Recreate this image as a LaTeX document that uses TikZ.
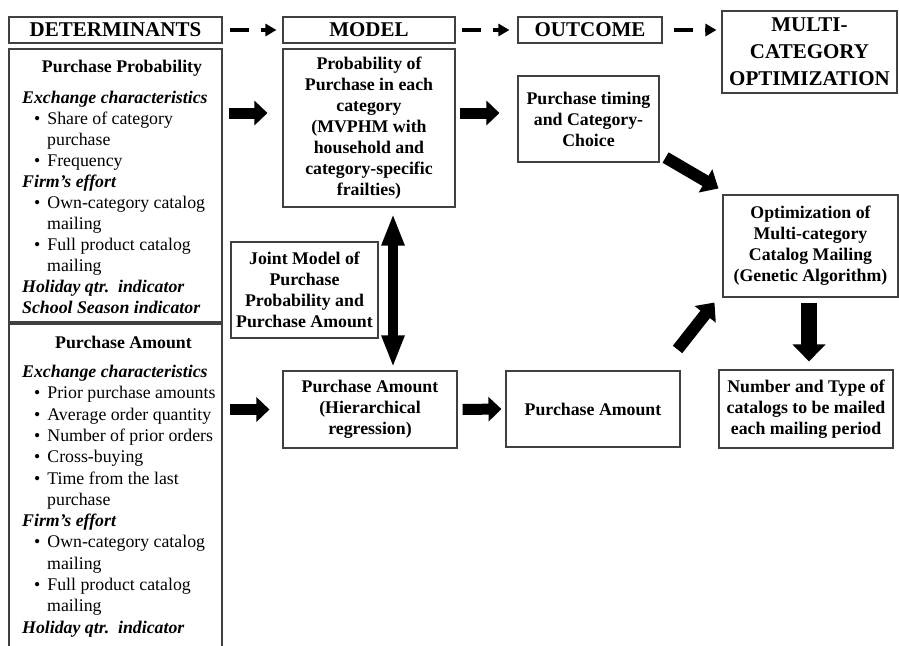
\documentclass[tikz,border=0pt]{standalone}
\usepackage{fontspec}
\setmainfont{Liberation Serif}
\usetikzlibrary{arrows.meta,positioning}

\newcommand{\listhead}[1]{\textbf{\textit{#1}}}
\newcommand{\bitem}[1]{\hspace*{12pt}\textbullet\hspace{7pt}#1}
\newcommand{\bcont}[1]{\hspace*{25pt}#1}

\begin{document}
\begin{tikzpicture}
  [x=1pt, y=-1pt,
    box/.style={
      draw=black!75, line width=1.1pt, align=center,
      font=\fontsize{17.8}{21}\selectfont\bfseries
    },
    headbox/.style={
      box, font=\fontsize{21}{27}\selectfont\bfseries
    },
    listtext/.style={
      anchor=north west, inner sep=0pt, align=left,
      font=\fontsize{17.8}{21}\selectfont
    },
    dasharrow/.style={
      -{Triangle[length=11pt,width=12pt]}, line width=4pt,
      dash pattern=on 19pt off 12pt
    },
    bigarrow/.style={
      -{Triangle[length=13pt,width=24pt]}, line width=11pt
    },
  ]
  \useasboundingbox (0,0) rectangle (899,645);
  \clip (0,0) rectangle (899,645);

  % Column headers
  \node[headbox, minimum width=213pt, minimum height=26pt] (det) at (115.5,30) {DETERMINANTS};
  \node[headbox, minimum width=172pt, minimum height=26pt] (model) at (369,30) {MODEL};
  \node[headbox, minimum width=144pt, minimum height=26pt] (outcome) at (590,30) {OUTCOME};
  \node[headbox, minimum width=175pt, minimum height=82pt] (multi) at (809.5,52)
       {MULTI-\\CATEGORY\\OPTIMIZATION};

  \draw[dasharrow, shorten <=7pt, shorten >=6pt] (det) -- (model);
  \draw[dasharrow, shorten <=6pt, shorten >=8pt] (model) -- (outcome);
  \draw[dasharrow, shorten <=11pt, shorten >=5pt] (outcome.east) -- (outcome.east -| multi.west);

  % Determinants
  \node[box, minimum width=213pt, minimum height=273pt] (detprob) at (115.5,185.5) {};
  \node[box, minimum width=213pt, minimum height=376pt] (detamt) at (115.5,512) {};
  \node[box, draw=none] (probtitle) at (122,68) {Purchase Probability};
  \node[box, draw=none] (amttitle) at (123.5,342) {Purchase Amount};

  \node[listtext] (problist) at (22,91) {%
    \listhead{Exchange characteristics}\\
    \bitem{Share of category}\\
    \bcont{purchase}\\
    \bitem{Frequency}\\
    \listhead{Firm’s effort}\\
    \bitem{Own-category catalog}\\
    \bcont{mailing}\\
    \bitem{Full product catalog}\\
    \bcont{mailing}\\
    \listhead{Holiday qtr.\ \ indicator}\\
    \listhead{School Season indicator}};

  \node[listtext, font=\fontsize{17.8}{21.3}\selectfont] (amtlist) at (22,365) {%
    \listhead{Exchange characteristics}\\
    \bitem{Prior purchase amounts}\\
    \bitem{Average order quantity}\\
    \bitem{Number of prior orders}\\
    \bitem{Cross-buying}\\
    \bitem{Time from the last}\\
    \bcont{purchase}\\
    \listhead{Firm’s effort}\\
    \bitem{Own-category catalog}\\
    \bcont{mailing}\\
    \bitem{Full product catalog}\\
    \bcont{mailing}\\
    \listhead{Holiday qtr.\ \ indicator}};

  % Model
  \node[box, minimum width=172pt, minimum height=158pt] (prob) at (369,128)
       {Probability of\\Purchase in each\\category\\(MVPHM with\\household and\\category-specific\\frailties)};
  \node[box, minimum width=147pt, minimum height=96pt] (joint) at (304.5,290)
       {Joint Model of\\Purchase\\Probability and\\Purchase Amount};
  \node[box, minimum width=174pt, minimum height=77pt] (pamodel) at (370,409.5)
       {Purchase Amount\\(Hierarchical\\regression)};

  % Outcome
  \node[box, minimum width=141pt, minimum height=86pt] (timing) at (588.5,119)
       {Purchase timing\\and Category-\\Choice};
  \node[box, minimum width=174pt, minimum height=76pt] (paout) at (593,409)
       {Purchase Amount};

  % Optimization
  \node[box, minimum width=175pt, minimum height=102pt] (optim) at (810.5,246)
       {Optimization of\\Multi-category\\Catalog Mailing\\(Genetic Algorithm)};
  \node[box, minimum width=174pt, minimum height=78pt] (number) at (806,409)
       {Number and Type of\\catalogs to be mailed\\each mailing period};

  % Block arrows
  \draw[bigarrow, shorten <=6pt, shorten >=15pt]
       ([yshift=15pt]prob.west -| detprob.east) -- ([yshift=15pt]prob.west);
  \draw[bigarrow, shorten <=4pt, shorten >=18pt]
       ([yshift=15pt]prob.east) -- ([yshift=15pt]prob.east -| timing.west);
  \draw[bigarrow, shorten <=7pt, shorten >=13pt]
       (detamt.east |- pamodel.west) -- (pamodel.west);
  \draw[bigarrow, shorten <=5pt, shorten >=4pt] (pamodel.east) -- (paout.west);
  \draw[{Triangle[length=32pt,width=21pt]}-{Triangle[length=32pt,width=21pt]},
        line width=10pt, shorten <=6pt, shorten >=3pt]
       ([xshift=24pt]prob.south) -- ([xshift=24pt]prob.south |- pamodel.north);
  \draw[-{Triangle[length=15pt,width=26pt]}, line width=12pt]
       ([shift={(6,-5)}]timing.south east) -- ([shift={(-4,-6)}]optim.north west);
  \draw[-{Triangle[length=15pt,width=26pt]}, line width=12pt]
       ([shift={(-3,-21)}]paout.north east) -- ([shift={(-8,5)}]optim.south west);
  \draw[-{Triangle[length=17pt,width=32pt]}, line width=16pt, shorten <=5pt, shorten >=8pt]
       ([xshift=-1.5pt]optim.south) -- ([xshift=-1.5pt]optim.south |- number.north);
\end{tikzpicture}
\end{document}
